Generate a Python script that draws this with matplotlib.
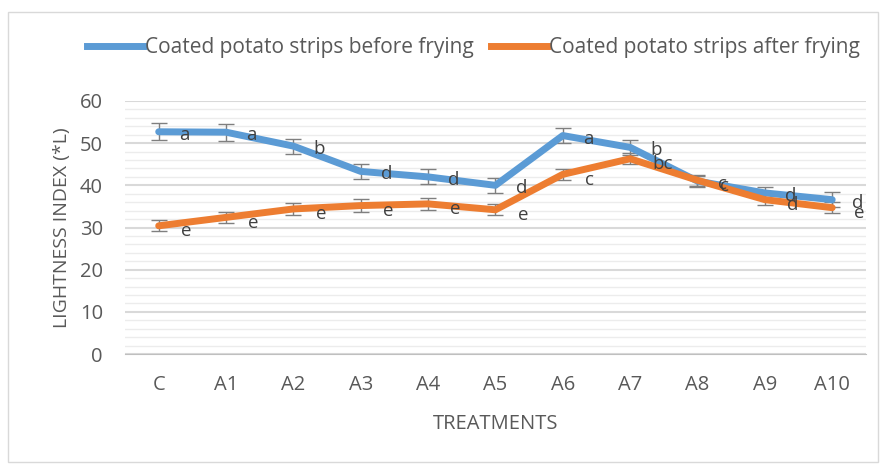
import matplotlib
matplotlib.use("Agg")
import matplotlib.pyplot as plt
from matplotlib.patches import Rectangle
from matplotlib.lines import Line2D
from matplotlib.ticker import MultipleLocator

plt.rcParams['font.family'] = ['Open Sans', 'DejaVu Sans']

treatments = ['C', 'A1', 'A2', 'A3', 'A4', 'A5', 'A6', 'A7', 'A8', 'A9', 'A10']
before = [52.7, 52.6, 49.3, 43.3, 42.0, 40.0, 51.8, 49.0, 41.0, 38.2, 36.6]
before_err = [2.0, 2.0, 1.8, 1.8, 1.8, 1.8, 1.8, 1.8, 1.3, 1.5, 1.8]
after = [30.4, 32.4, 34.4, 35.2, 35.6, 34.2, 42.6, 46.3, 41.2, 36.6, 34.7]
after_err = [1.3, 1.3, 1.5, 1.5, 1.5, 1.3, 1.3, 1.3, 1.3, 1.3, 1.3]
before_lab = ['a', 'a', 'b', 'd', 'd', 'd', 'a', 'b', 'c', 'd', 'd']
after_lab = ['e', 'e', 'e', 'e', 'e', 'e', 'c', 'bc', 'c', 'd', 'e']
names = ['Coated potato strips before frying', 'Coated potato strips after frying']

blue = '#5B9BD5'
orange = '#ED7D31'
grey = '#595959'

fig = plt.figure(figsize=(8.83, 4.66), dpi=100)
fig.patches.append(Rectangle((0.009, 0.008), 0.985, 0.966, transform=fig.transFigure,
                             fill=False, edgecolor='#d9d9d9', lw=1))
ax = fig.add_axes([0.1416, 0.2403, 0.839, 0.543])

x = list(range(len(treatments)))
for vals, errs, col in [(before, before_err, blue), (after, after_err, orange)]:
    ax.errorbar(x, vals, yerr=errs, color=col, lw=5, ecolor='#7f7f7f',
                elinewidth=1, capsize=6, capthick=1, zorder=3, solid_capstyle='round')

# significance letters, right of each point (they overlap where the lines meet, as in the original)
for i in x:
    ax.text(i + 0.3, before[i] - 0.7, before_lab[i], fontsize=13.5, color='#404040',
            va='center', ha='left', zorder=4)
    ax.text(i + 0.33, after[i] - 1.3, after_lab[i], fontsize=13.5, color='#404040',
            va='center', ha='left', zorder=4)

ax.set_xlim(-0.5, 10.5)
ax.set_ylim(0, 60)
ax.yaxis.set_major_locator(MultipleLocator(10))
ax.yaxis.set_minor_locator(MultipleLocator(2))
ax.grid(axis='y', which='major', color='#d9d9d9', lw=1.5)
ax.grid(axis='y', which='minor', color='#ececec', lw=1)
ax.set_axisbelow(True)
for s in ['top', 'right', 'left']:
    ax.spines[s].set_visible(False)
ax.spines['bottom'].set_color('#bfbfbf')
ax.set_xticks(x)
ax.set_xticklabels(treatments)
ax.tick_params(axis='both', which='both', length=0, colors=grey, labelsize=14.5)
ax.tick_params(axis='y', pad=16)
ax.tick_params(axis='x', pad=15)
ax.set_xlabel('TREATMENTS', fontsize=14.5, color=grey, labelpad=14)
ax.set_ylabel('LIGHTNESS INDEX (*L)', fontsize=14, color=grey, labelpad=6)

handles = [Line2D([], [], color=blue, lw=5), Line2D([], [], color=orange, lw=5)]
fig.legend(handles, names, loc='center', bbox_to_anchor=(0.536, 0.897), ncol=2,
           frameon=False, fontsize=15, handlelength=2.7, handletextpad=0.1,
           columnspacing=0.8, labelcolor=grey)

fig.savefig('out.png', dpi=100)
